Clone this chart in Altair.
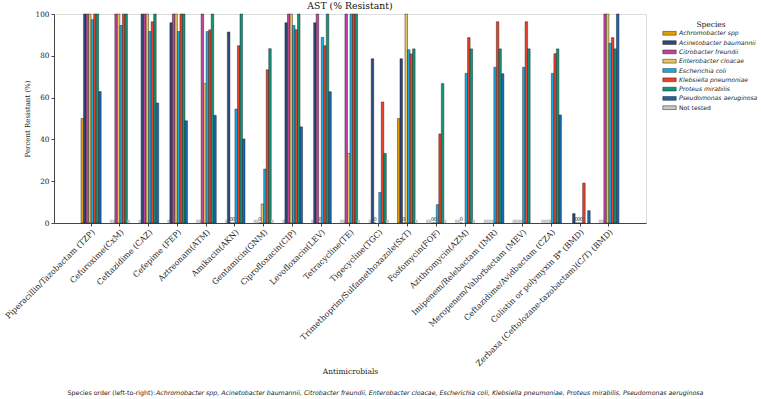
import math
import altair as alt
import pandas as pd

# Antimicrobials on the x axis, left to right
antimicrobials = [
    "Piperacillin/Tazobactam (TZP)", "Cefuroxime(CxM)", "Ceftazidime (CAZ)", "Cefepime (FEP)",
    "Aztreonam(ATM)", "Amikacin(AKN)", "Gentamicin(GNM)", "Ciprofloxacin(CIP)",
    "Levofloxacin(LEV)", "Tetracycline(TE)", "Tigecycline(TGC)",
    "Trimethoprim/Sulfamethoxazole(SxT)", "Fosfomycin(FOF)", "Azithromycin(AZM)",
    "Imipenem/Relebactam (IMR)", "Meropenem/Vaborbactam (MEV)", "Ceftazidime/Avidbactam (CZA)",
    "Colistin or polymyxin B* (BMD)", "Zerbaxa (Ceftolozane-tazobactam)(C/T) (BMD)",
]

species = [
    "Achromobacter spp", "Acinetobacter baumannii", "Citrobacter freundii",
    "Enterobacter cloacae", "Escherichia coli", "Klebsiella pneumoniae",
    "Proteus mirabilis", "Pseudomonas aeruginosa",
]

colors = ["#E69F00", "#2C4A7E", "#C2449E", "#E6C460", "#17ACE6", "#EA4128", "#11967A", "#1768B2"]
not_tested_label = "Not tested"
not_tested_color = "#C8C8C8"

# Percent resistant per species, one value per antimicrobial
# NT = not tested (grey stub), NA = no entry drawn
NT = None
NA = float("nan")
achromobacter = [50, NT, NT, NT, NT, NT, NT, NT, NT, NT, NT, 50, NT, NT, NT, NT, NT, NA, NT]
acinetobacter = [100, NT, 100, 95.8, NT, 91.4, NT, 95.8, 95.8, NT, 78.6, 78.6, NT, NT, NT, NT, NT, 4.5, NT]
citrobacter = [100, 100, 100, 100, 100, 0, 0, 100, 100, 100, 0, 0, 0, 0, NT, NT, NT, 0, 100]
enterobacter = [100, 100, 100, 100, 66.7, 0, 9.1, 100, 0, 33.3, NA, 100, 0, NA, NT, NT, NT, 0, 100]
ecoli = [97.3, 94.5, 91.6, 91.6, 91.6, 54.5, 25.8, 94.5, 88.8, 100, 14.6, 82.9, 8.8, 71.6, 74.5, 74.5, 71.6, 0, 86.0]
klebsiella = [100, 100, 96.3, 100, 92.4, 84.8, 73.3, 92.5, 84.8, 100, 57.9, 80.9, 42.6, 88.7, 96.3, 96.3, 81.0, 19.1, 88.7]
proteus = [100, 100, 100, 100, 100, 100, 83.4, 100, 100, 100, 33.3, 83.3, 66.7, 83.3, 83.3, 83.3, 83.3, NA, 83.3]
pseudomonas = [62.9, NT, 57.4, 48.9, 51.5, 40.2, NT, 46.0, 62.8, NT, NT, NT, NT, NT, 71.4, NA, 51.7, 5.9, 100]

series = [achromobacter, acinetobacter, citrobacter, enterobacter, ecoli, klebsiella, proteus, pseudomonas]
not_tested_height = 1.6

rows = []
for sp, vals in zip(species, series):
    for drug, v in zip(antimicrobials, vals):
        if v is None:
            rows.append({"drug": drug, "species": sp, "key": not_tested_label, "value": not_tested_height})
        elif not math.isnan(v):
            rows.append({"drug": drug, "species": sp, "key": sp, "value": v})
df = pd.DataFrame(rows)

SERIF = "DejaVu Serif"
SANS = "DejaVu Sans"

x_enc = alt.X(
    "drug:N", sort=antimicrobials,
    scale=alt.Scale(domain=antimicrobials, paddingInner=0.3, paddingOuter=0.94),
    axis=alt.Axis(
        title="Antimicrobials", labelAngle=-45, labelAlign="right", labelBaseline="top",
        labelFont=SERIF, labelFontSize=8, labelColor="#222", labelPadding=2,
        titleFont=SERIF, titleFontSize=7.5, titleFontWeight="normal", titleColor="#222",
        titlePadding=0, domainColor="#444", tickColor="#444", tickSize=3, labelLimit=400,
    ),
)
xoff_enc = alt.XOffset(
    "species:N", sort=species,
    scale=alt.Scale(domain=species, paddingInner=0, paddingOuter=0),
)
y_enc = alt.Y(
    "value:Q",
    scale=alt.Scale(domain=[0, 100], nice=False),
    axis=alt.Axis(
        title="Percent Resistant (%)", values=[0, 20, 40, 60, 80, 100], grid=False,
        labelFont=SERIF, labelFontSize=7.3, labelColor="#222", labelPadding=2,
        titleFont=SERIF, titleFontSize=7, titleFontWeight="normal", titleColor="#222",
        titlePadding=5, domainColor="#444", tickColor="#444", tickSize=3,
    ),
)

bars = alt.Chart(df).mark_bar(stroke="#1a1a1a").encode(
    x=x_enc,
    xOffset=xoff_enc,
    y=y_enc,
    color=alt.Color(
        "key:N",
        scale=alt.Scale(domain=species + [not_tested_label], range=colors + [not_tested_color]),
        legend=alt.Legend(
            title="Species", orient="none", legendX=611, legendY=6.7,
            titleFont=SERIF, titleFontSize=7.5, titleFontWeight="normal", titleColor="#222",
            titleAnchor="middle", titlePadding=0.6,
            labelFont=SANS, labelFontSize=6.1, labelColor="#222",
            labelFontStyle={"expr": "datum.label == 'Not tested' ? 'normal' : 'italic'"},
            symbolType="M-1.6,-0.45H1.6V0.45H-1.6Z", symbolSize=70,
            symbolStrokeWidth=0.5, symbolStrokeColor="#222",
            rowPadding=1.3, labelOffset=5,
        ),
    ),
    strokeWidth=alt.condition(
        alt.datum.key == not_tested_label, alt.value(0), alt.value(0.45)
    ),
)

zeros = alt.Chart(df[(df["key"] != not_tested_label) & (df["value"] == 0)]).mark_text(
    fontSize=5, font=SANS, baseline="bottom", dy=-1, color="#222"
).encode(
    x=alt.X("drug:N", sort=antimicrobials),
    xOffset=alt.XOffset("species:N", sort=species),
    y=alt.Y("value:Q"),
    text=alt.Text("value:Q", format="d"),
)

caption_prefix = "Species order (left-to-right): "
caption_names = ", ".join(species)

cap1 = alt.Chart(pd.DataFrame({"t": [caption_prefix]})).mark_text(
    align="right", baseline="middle", font=SANS, fontSize=6.25, color="#222"
).encode(x=alt.value(101), y=alt.value(379), text="t:N")
cap2 = alt.Chart(pd.DataFrame({"t": [caption_names]})).mark_text(
    align="left", baseline="middle", font=SANS, fontSize=6.25, fontStyle="italic", color="#222"
).encode(x=alt.value(102), y=alt.value(379), text="t:N")

chart = alt.layer(bars, zeros, cap1, cap2).properties(
    width=592, height=209,
    title=alt.TitleParams(
        "AST (% Resistant)", font=SERIF, fontSize=9.3, fontWeight="normal",
        color="#111", anchor="middle", offset=-1,
    ),
    autosize=alt.AutoSizeParams(type="none"),
    padding={"left": 54, "top": 14, "right": 115, "bottom": 176},
).configure_view(stroke=None).configure(background="white")

chart.save("out.html", embed_options={"renderer": "svg", "actions": False})
